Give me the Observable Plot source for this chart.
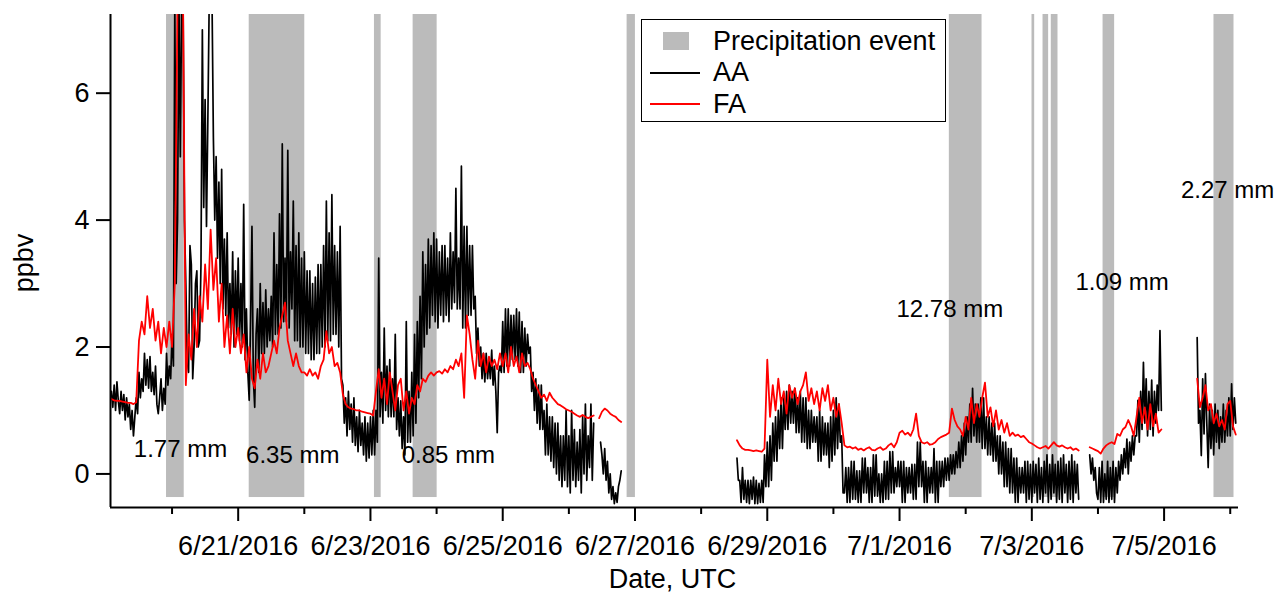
<!DOCTYPE html>
<html><head><meta charset="utf-8">
<script src="https://cdn.jsdelivr.net/npm/d3@7"></script>
<script src="https://cdn.jsdelivr.net/npm/@observablehq/plot@0.6"></script>
<style>
body{margin:0;background:#fff;}
#wrap{position:relative;width:1276px;height:594px;font-family:"Liberation Sans",Arial,Helvetica,sans-serif;color:#000;}
#legend{position:absolute;left:641px;top:19px;width:303px;height:101px;border:1.6px solid #000;background:#fff;box-sizing:content-box;}
#legend .row{position:absolute;left:71px;font-size:27px;line-height:31px;height:31px;white-space:nowrap;}
#legend .sw{position:absolute;left:21px;top:12px;width:26px;height:18px;background:#bbbbbb;}
#legend .ln{position:absolute;left:8px;width:50px;height:2px;}
</style></head>
<body><div id="wrap"><div id="chart"></div>
<div id="legend">
  <div class="sw"></div><div class="row" style="top:6px">Precipitation event</div>
  <div class="ln" style="top:51.5px;background:#000"></div><div class="row" style="top:37px">AA</div>
  <div class="ln" style="top:82.5px;background:#f00"></div><div class="row" style="top:68.5px">FA</div>
</div></div>
<script>
// ---- data (UTC). AA: half-hourly values per day; FA: hourly values per day ----
const days = ["2016-06-19","2016-06-20","2016-06-21","2016-06-22","2016-06-23","2016-06-24","2016-06-25","2016-06-26","2016-06-28","2016-06-29","2016-06-30","2016-07-01","2016-07-02","2016-07-03","2016-07-04","2016-07-05","2016-07-06"];

const aa_0619 = [null,null,null,null,1.3,1.05,1.4,1.0,1.45,1.15,0.95,1.3,1.0,1.25,0.85,1.2,0.9,1.1,0.7,1.0,0.6,0.9,1.2,0.95,1.6,1.2,1.5,1.3,1.9,1.4,1.8,1.35,1.85,1.3,1.6,1.25,1.7,1.1,0.95,1.2,1.5,1.0,1.35,1.1,1.9,1.4,1.7,1.5];
const aa_0620 = [2.2,1.7,7.5,3.0,4.0,7.5,5.0,7.5,7.5,4.0,3.0,1.8,1.6,3.6,3.3,1.5,2.0,3.0,3.2,2.0,2.1,3.3,7.0,4.2,5.9,3.9,5.6,7.5,7.5,7.5,5.3,4.0,5.0,3.4,4.6,3.0,4.8,2.6,3.7,2.5,3.8,2.3,3.0,2.2,3.5,2.0,3.2,2.2];
const aa_0621 = [3.4,2.1,3.0,2.0,4.25,1.8,2.6,1.6,1.16,2.4,3.9,1.5,1.05,2.2,2.6,1.6,3.0,1.9,2.7,1.9,2.9,2.0,2.6,2.1,2.8,2.0,3.8,2.2,3.3,2.2,4.1,2.3,5.2,2.4,3.4,2.4,5.1,2.3,3.5,2.6,4.3,2.1,3.6,2.1,3.8,2.0,3.4,2.0];
const aa_0622 = [3.5,1.9,3.2,1.9,3.2,1.8,3.0,1.8,3.1,1.9,3.3,1.9,3.3,2.0,3.6,2.0,4.3,2.1,3.8,2.1,4.4,2.2,3.6,2.2,3.5,2.0,3.9,1.5,1.4,0.8,1.2,0.6,1.3,0.7,1.1,0.5,1.2,0.45,0.9,0.35,1.0,0.45,0.8,0.3,0.9,0.2,0.8,0.25];
const aa_0623 = [0.9,0.3,1.0,0.3,1.0,0.5,3.4,0.9,1.6,0.8,2.3,1.0,1.7,0.9,1.8,0.9,1.5,0.9,2.2,0.7,1.2,0.6,1.15,0.4,0.9,0.3,2.4,0.5,1.3,0.5,1.6,0.6,2.2,0.8,2.4,1.2,2.8,1.5,3.5,2.0,3.3,2.2,3.7,2.3,3.6,2.5,3.8,2.4];
const aa_0624 = [3.7,2.3,3.5,2.5,3.6,2.4,3.6,2.5,3.4,2.4,3.8,2.6,3.5,2.7,4.5,2.6,3.4,2.6,4.85,2.3,3.9,2.3,3.9,2.5,3.6,2.5,3.6,2.6,2.8,1.9,2.3,1.7,2.0,1.5,1.9,1.45,1.9,1.5,1.8,1.5,1.95,1.4,1.7,1.3,0.65,1.6,1.7,1.6];
const aa_0625 = [2.4,1.6,2.6,1.7,2.6,1.7,2.5,1.8,2.5,1.8,2.6,1.7,2.55,1.6,2.4,1.6,2.3,1.7,2.2,1.9,2.0,1.3,1.6,1.0,1.5,0.8,1.4,0.7,1.4,0.7,1.0,0.3,1.1,0.3,0.9,0.2,0.9,0.1,0.8,0.0,0.8,-0.1,0.6,-0.2,0.6,-0.1,1.0,-0.2];
const aa_0626 = [0.6,-0.3,1.0,-0.1,0.7,-0.2,0.5,-0.1,0.7,-0.3,0.9,0.0,1.1,-0.1,0.6,0.1,1.1,-0.1,0.8,null,null,null,null,0.5,0.3,0.0,0.4,-0.1,0.2,-0.3,0.0,-0.4,-0.2,-0.47,-0.3,-0.45,-0.2,-0.1,0.05,null,null,null,null,null,null,null,null,null];
const aa_0628 = [null,null,null,null,null,null,null,null,null,null,null,null,null,null,null,null,null,null,null,null,null,null,null,null,null,null,0.25,-0.1,-0.1,-0.45,0.1,-0.4,-0.1,-0.45,-0.1,-0.47,-0.1,-0.4,-0.05,-0.47,-0.1,-0.47,-0.15,-0.45,-0.1,-0.45,0.3,-0.2];
const aa_0629 = [0.5,-0.2,0.6,-0.1,0.8,0.2,0.9,0.2,1.0,0.4,1.2,0.4,1.2,0.7,1.3,0.7,1.4,0.8,1.3,0.8,1.35,0.65,1.2,0.65,1.3,0.5,1.2,0.5,1.2,0.4,1.0,0.4,1.0,0.5,0.9,0.5,0.9,0.2,1.0,0.2,0.9,0.3,0.8,0.3,0.8,0.1,0.9,0.2];
const aa_0630 = [1.0,0.3,1.2,0.4,1.1,0.5,0.6,-0.3,-0.3,0.1,-0.45,0.1,-0.45,0.2,-0.4,0.2,-0.4,0.05,-0.45,0.05,-0.45,0.25,-0.3,0.25,-0.3,0.1,-0.45,0.1,-0.45,0.3,-0.35,0.3,-0.35,0.0,-0.45,0.0,-0.45,0.2,-0.4,0.2,-0.4,0.35,-0.3,0.35,-0.3,0.1,-0.2,0.2];
const aa_0701 = [-0.2,0.2,-0.45,0.2,-0.45,0.1,-0.3,0.1,-0.3,0.15,-0.4,0.15,-0.4,0.5,-0.2,0.5,-0.2,0.2,-0.45,0.2,-0.45,0.1,-0.3,0.1,-0.3,0.4,-0.45,0.2,-0.45,0.2,-0.2,0.2,-0.2,0.25,-0.1,0.25,-0.1,0.3,0.0,0.3,0.0,0.35,0.1,0.5,0.1,0.6,0.2,0.8];
const aa_0702 = [0.3,0.9,0.5,1.1,0.5,1.35,0.6,1.1,0.5,1.1,0.5,1.2,0.4,1.2,0.4,0.9,0.3,0.9,0.3,0.8,0.2,0.8,0.2,0.6,0.0,0.6,0.0,0.5,-0.2,0.5,-0.2,0.4,-0.3,0.4,-0.3,0.25,-0.45,0.25,-0.45,0.1,-0.3,0.1,-0.3,0.2,-0.45,0.2,-0.4,0.15];
const aa_0703 = [-0.45,0.2,-0.3,0.15,-0.45,0.25,-0.4,0.1,-0.45,0.2,-0.3,0.3,-0.45,0.15,-0.4,0.3,-0.3,0.15,-0.45,0.2,-0.4,0.25,-0.45,0.3,-0.3,0.15,-0.45,0.2,-0.4,0.3,-0.45,0.2,-0.3,0.15,-0.4,null,null,null,null,null,null,null,0.3,0.0,0.25,-0.1,0.1,-0.3];
const aa_0704 = [-0.4,0.1,-0.45,0.2,-0.45,0.0,-0.4,0.2,-0.45,0.1,-0.4,0.2,-0.45,0.1,-0.3,0.2,-0.1,0.3,0.0,0.4,0.1,0.55,0.0,0.5,0.2,0.6,0.3,0.6,0.6,1.16,0.5,1.3,0.7,1.76,0.8,1.5,0.6,1.3,0.7,1.48,0.6,1.3,0.8,1.4,1.0,2.26,1.0,null];
const aa_0705 = [null,null,null,null,null,null,null,null,null,null,null,null,null,null,null,null,null,null,null,null,null,null,null,null,2.15,0.8,1.0,0.29,1.5,0.63,1.58,0.8,0.1,1.1,0.4,1.0,0.3,1.1,0.5,1.0,0.4,0.9,0.5,1.1,0.5,1.0,0.6,1.2];
const aa_0706 = [0.6,1.42,0.7,1.2,0.8];

const fa_0619 = [null,null,1.18,1.16,1.15,1.15,1.14,1.13,1.12,1.12,1.1,1.13,2.1,2.4,2.2,2.8,2.3,2.6,2.1,2.4,1.9,2.3,2.0,2.4];
const fa_0620 = [2.0,3.0,7.5,7.6,7.4,1.4,2.2,1.8,2.6,2.0,2.8,2.4,3.3,2.6,3.85,2.9,3.4,2.4,3.0,2.0,2.5,1.9,2.6,2.0];
const fa_0621 = [2.3,1.9,2.2,1.6,2.0,1.5,1.35,1.8,1.5,1.9,1.6,1.7,1.9,2.1,1.9,2.3,2.5,2.7,2.1,1.9,1.7,1.9,1.7,1.6];
const fa_0622 = [1.6,1.55,1.65,1.55,1.6,1.5,1.7,1.8,2.25,1.9,2.0,1.7,1.75,1.6,1.25,1.1,1.05,1.03,1.02,1.0,1.0,0.98,0.97,0.96];
const fa_0623 = [0.95,0.92,1.3,1.65,1.2,1.5,1.1,1.6,1.3,1.0,1.4,1.5,1.0,1.3,0.95,1.2,1.1,1.4,1.3,1.5,1.45,1.55,1.6,1.55];
const fa_0624 = [1.6,1.62,1.58,1.65,1.6,1.7,1.65,1.8,1.7,1.9,1.2,2.5,2.2,1.8,1.5,2.1,1.7,1.9,1.6,1.85,1.7,1.8,1.65,1.9];
const fa_0625 = [1.7,1.9,1.6,2.0,1.7,1.85,1.6,1.9,1.7,1.75,1.65,1.5,1.4,1.3,1.2,1.25,1.15,1.28,1.2,1.15,1.1,1.08,1.05,1.02];
const fa_0626 = [1.0,0.98,0.95,0.92,0.9,0.93,0.9,0.88,0.9,0.92,null,0.88,0.98,1.03,1.0,0.95,0.92,0.9,0.85,0.82,null,null,null,null];
const fa_0628 = [null,null,null,null,null,null,null,null,null,null,null,null,null,0.53,0.45,0.4,0.38,0.38,0.37,0.36,0.37,0.36,0.35,0.4];
const fa_0629 = [1.8,0.9,1.4,1.0,1.5,1.1,1.3,0.95,1.4,1.2,1.35,1.1,1.3,1.4,1.6,1.15,1.35,1.1,1.3,1.0,1.35,1.15,1.4,1.0];
const fa_0630 = [1.2,0.9,1.1,0.8,0.45,0.42,0.43,0.4,0.42,0.38,0.4,0.37,0.4,0.42,0.38,0.37,0.4,0.42,0.38,0.4,0.45,0.48,0.42,0.5];
const fa_0701 = [0.65,0.68,0.62,0.65,0.6,0.7,0.95,0.6,0.5,0.48,0.5,0.46,0.47,0.5,0.55,0.58,0.6,0.62,0.65,1.03,0.85,0.75,0.7,0.6];
const fa_0702 = [0.9,0.7,1.2,0.8,1.1,0.9,1.2,1.44,0.9,1.05,0.75,1.0,0.7,0.85,0.65,0.8,0.6,0.65,0.6,0.62,0.58,0.6,0.55,0.5];
const fa_0703 = [0.48,0.45,0.42,0.4,0.42,0.44,0.4,0.45,0.5,0.45,0.43,0.45,0.42,0.4,0.42,0.38,0.4,0.37,null,null,null,0.42,0.4,0.38];
const fa_0704 = [0.36,0.32,0.4,0.45,0.48,0.5,0.47,0.63,0.6,0.7,0.74,0.85,0.75,0.6,0.9,1.2,0.8,1.05,0.7,1.1,0.75,0.95,0.65,0.7];
const fa_0705 = [null,null,null,null,null,null,null,null,null,null,null,null,1.5,1.05,1.2,1.4,1.0,1.1,0.8,0.95,0.75,0.85,0.7,1.1];
const fa_0706 = [1.15,0.75,0.62];

// precipitation events (UTC)
const precipStart = ["2016-06-19T22:00","2016-06-21T04:00","2016-06-23T01:27","2016-06-23T15:29","2016-06-26T21:08","2016-07-01T18:04","2016-07-03T00:04","2016-07-03T04:04","2016-07-03T07:04","2016-07-04T01:51","2016-07-05T18:06"];
const precipEnd   = ["2016-06-20T04:25","2016-06-22T00:10","2016-06-23T03:53","2016-06-24T00:12","2016-06-27T00:09","2016-07-02T05:56","2016-07-03T01:02","2016-07-03T06:06","2016-07-03T09:30","2016-07-04T06:03","2016-07-06T01:22"];
const precipLabels = ["1.77 mm","6.35 mm","0.85 mm","12.78 mm","1.09 mm","2.27 mm"];
const labelTimes   = ["2016-06-20T03:04","2016-06-21T19:48","2016-06-24T04:18","2016-07-01T18:15","2016-07-04T08:46","2016-07-05T23:02"];
const labelValues  = [0.39,0.29,0.29,2.6,3.02,4.47];

const xMajorTicks = ["2016-06-21","2016-06-23","2016-06-25","2016-06-27","2016-06-29","2016-07-01","2016-07-03","2016-07-05"];
const xTickLabels = ["6/21/2016","6/23/2016","6/25/2016","6/27/2016","6/29/2016","7/1/2016","7/3/2016","7/5/2016"];
const xMinorTicks = ["2016-06-20","2016-06-22","2016-06-24","2016-06-26","2016-06-28","2016-06-30","2016-07-02","2016-07-04","2016-07-06"];
const yTicks = [0,2,4,6];
const xDomain = ["2016-06-19T01:40","2016-07-06T03:00"];
const yDomain = [-0.529, 7.24];
const bandRange = [-0.372, 7.24];

// ---- build tables ----
const utc = s => new Date(s.length === 10 ? s + "T00:00:00Z" : s + ":00Z");
const aaDays = [aa_0619,aa_0620,aa_0621,aa_0622,aa_0623,aa_0624,aa_0625,aa_0626,aa_0628,aa_0629,aa_0630,aa_0701,aa_0702,aa_0703,aa_0704,aa_0705,aa_0706];
const faDays = [fa_0619,fa_0620,fa_0621,fa_0622,fa_0623,fa_0624,fa_0625,fa_0626,fa_0628,fa_0629,fa_0630,fa_0701,fa_0702,fa_0703,fa_0704,fa_0705,fa_0706];
const aaRows = [], faRows = [];
days.forEach((d, i) => {
  const base = +utc(d);
  aaDays[i].forEach((v, k) => aaRows.push({t: new Date(base + k * 1800e3), v}));
  faDays[i].forEach((v, h) => faRows.push({t: new Date(base + h * 3600e3), v}));
});
const events = precipStart.map((s, i) => ({start: utc(s), end: utc(precipEnd[i])}));
const notes = precipLabels.map((txt, i) => ({text: txt, t: utc(labelTimes[i]), v: labelValues[i]}));
const majors = xMajorTicks.map(utc), minors = xMinorTicks.map(utc);
const font = '"Liberation Sans", Arial, Helvetica, sans-serif';

const chart = Plot.plot({
  width: 1276, height: 594,
  marginLeft: 110, marginRight: 38, marginTop: 14, marginBottom: 87,
  style: {fontFamily: font, fontSize: "27px", color: "#000", background: "#fff", overflow: "visible"},
  x: {type: "utc", domain: xDomain.map(utc)},
  y: {domain: yDomain},
  marks: [
    Plot.rect(events, {x1: "start", x2: "end", y1: bandRange[0], y2: bandRange[1], fill: "#bbbbbb"}),
    Plot.line(aaRows, {x: "t", y: "v", stroke: "#000", strokeWidth: 1.7, clip: true}),
    Plot.line(faRows, {x: "t", y: "v", stroke: "#ff0000", strokeWidth: 1.8, clip: true}),
    Plot.axisX({ticks: majors, tickSize: 14, tickPadding: 14, strokeWidth: 2, fontSize: 27, tickFormat: (d, i) => xTickLabels[i], label: null}),
    Plot.axisX({ticks: minors, tickSize: 7, strokeWidth: 2, tickFormat: () => "", label: null}),
    Plot.axisY({ticks: yTicks, tickSize: 14, tickPadding: 7, strokeWidth: 2, fontSize: 27, tickFormat: d => String(d), label: null}),
    Plot.ruleY([yDomain[0]], {stroke: "#000", strokeWidth: 2}),
    Plot.ruleX([utc(xDomain[0])], {stroke: "#000", strokeWidth: 2}),
    Plot.text(notes, {x: "t", y: "v", text: "text", fontSize: 24, fill: "#000", textAnchor: "middle"}),
    Plot.text(["Date, UTC"], {frameAnchor: "bottom", dy: 61, dx: -2, lineAnchor: "top", fontSize: 27, fill: "#000"}),
    Plot.text(["ppbv"], {frameAnchor: "left", dx: -86, dy: 2, rotate: -90, textAnchor: "middle", fontSize: 27, fill: "#000"})
  ]
});
document.getElementById("chart").appendChild(chart);
</script>
</body></html>
